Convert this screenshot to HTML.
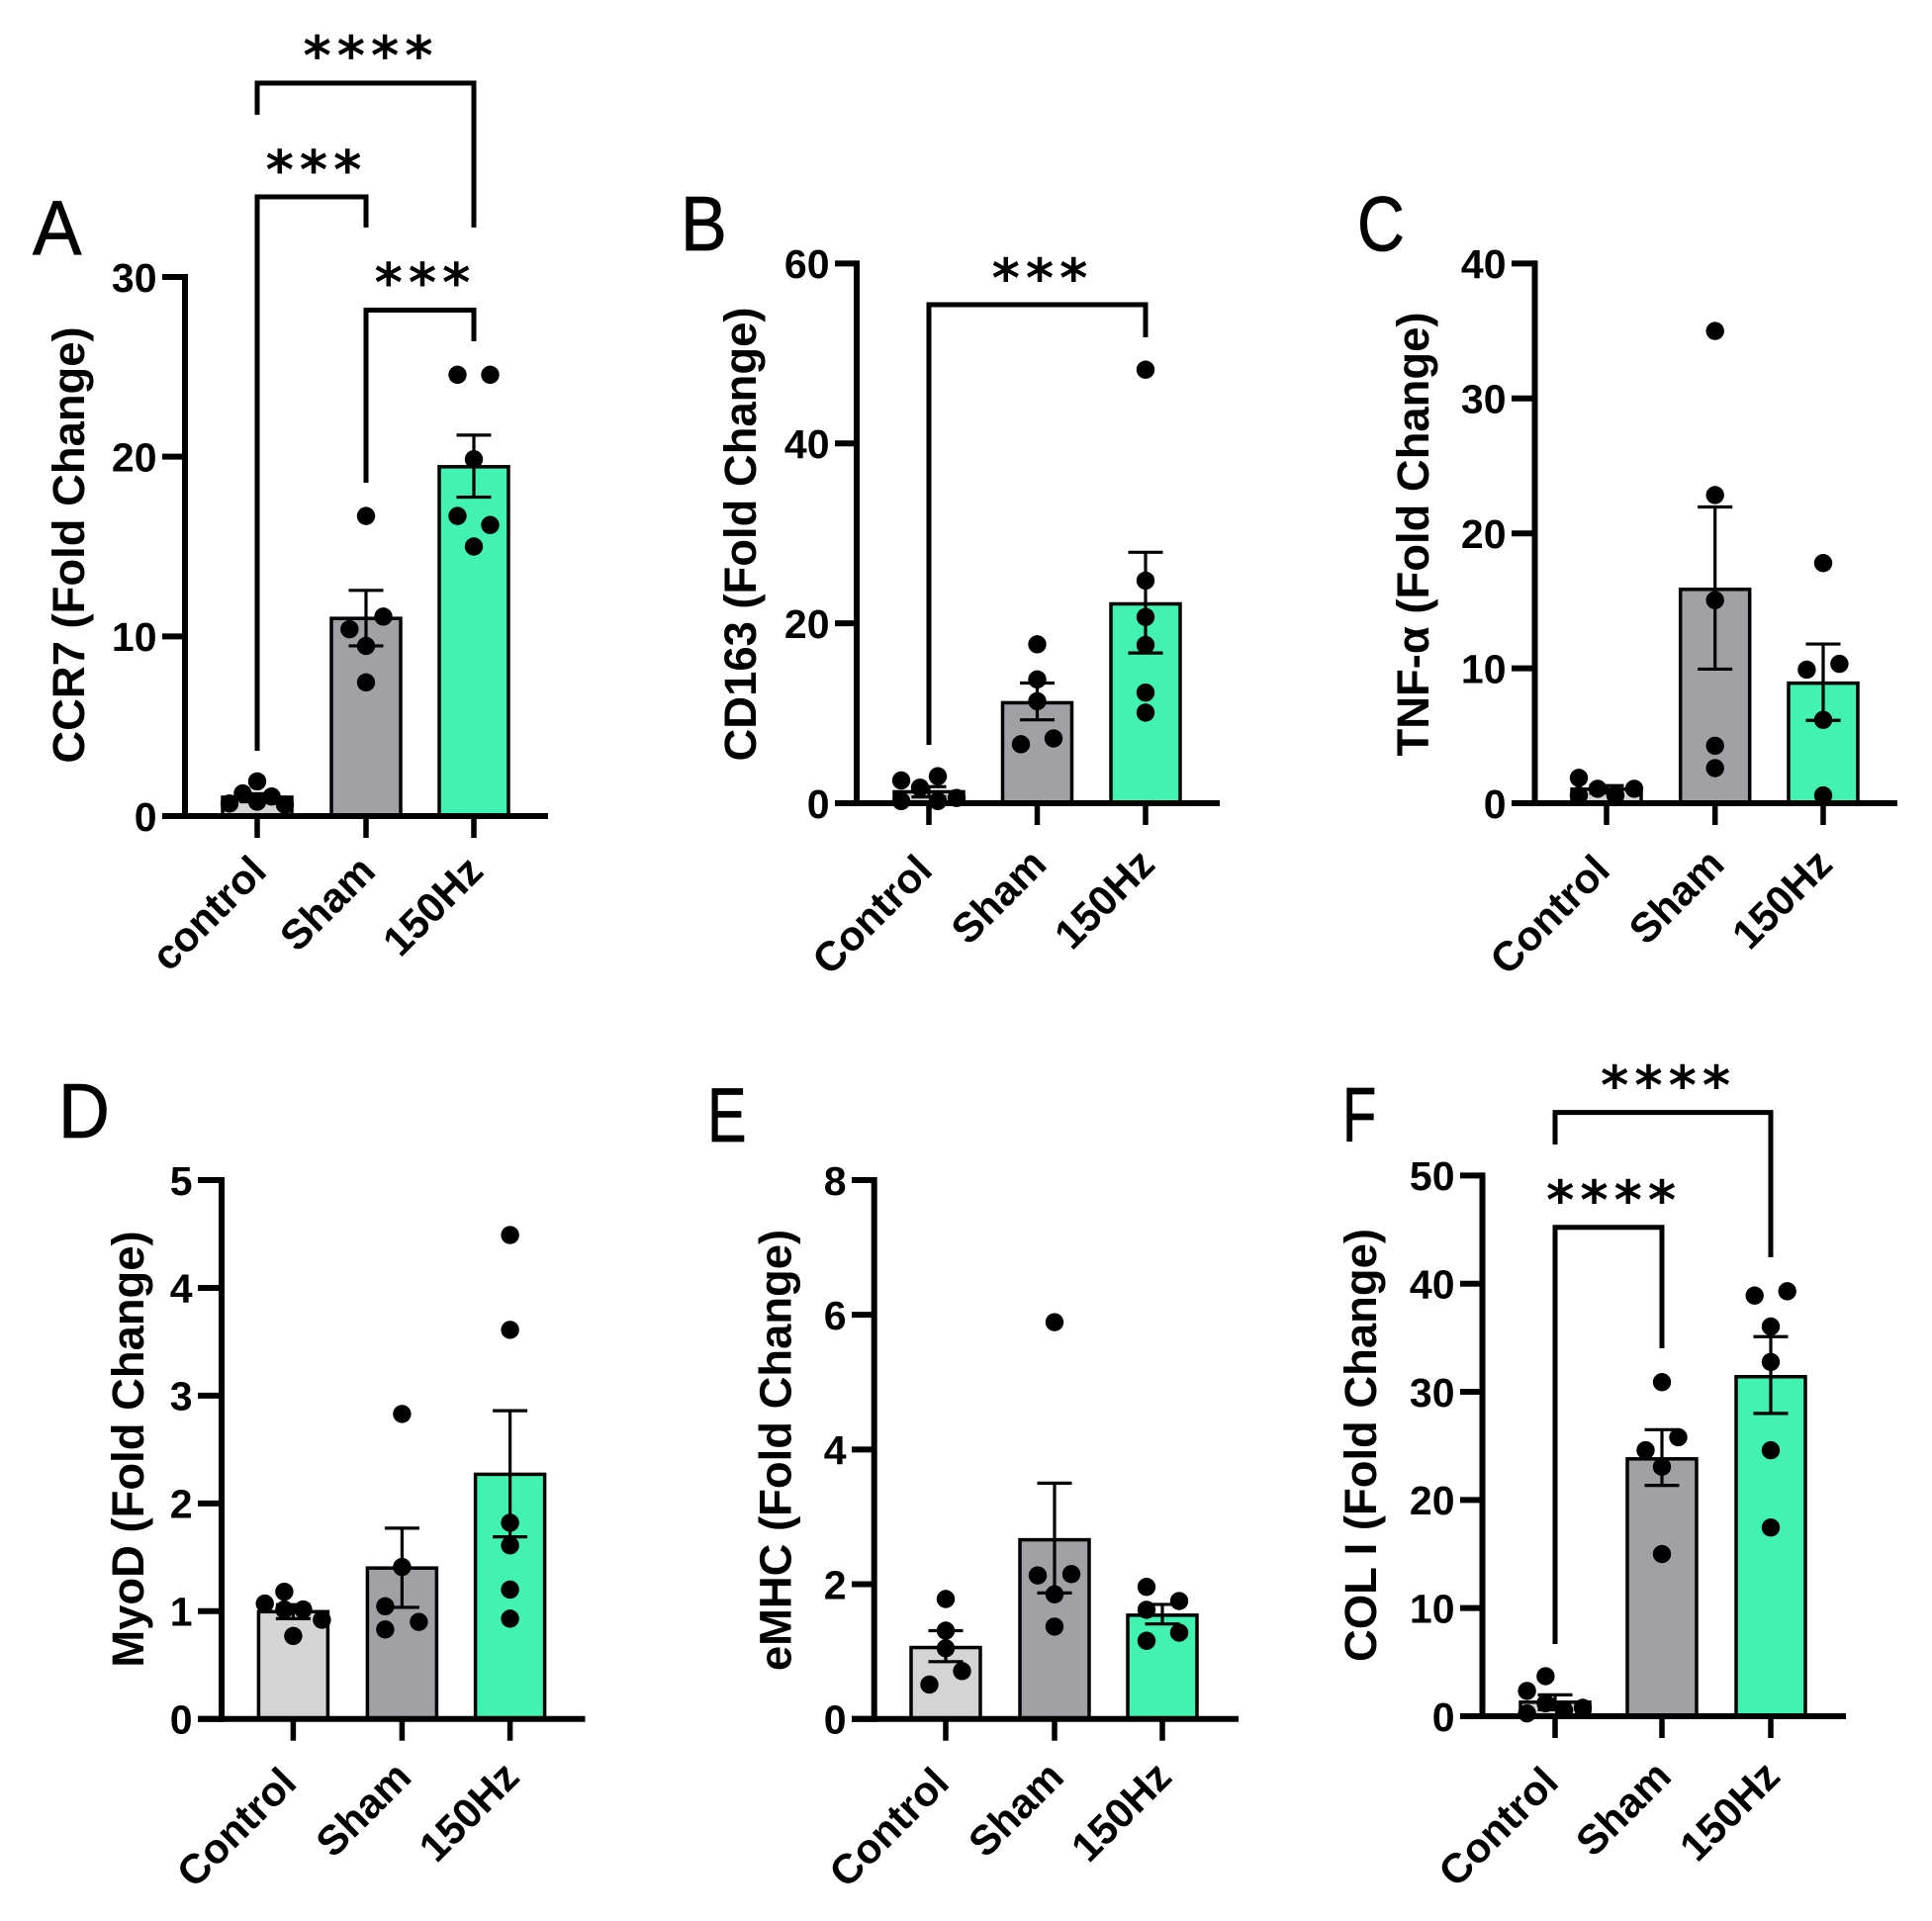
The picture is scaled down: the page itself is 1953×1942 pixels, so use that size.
<!DOCTYPE html>
<html lang="en">
<head>
<meta charset="utf-8">
<title>Fold change bar charts</title>
<style>
html,body{margin:0;padding:0;background:#fff;width:1953px;height:1942px;overflow:hidden}
svg{display:block}
text{font-family:"Liberation Sans",Arial,sans-serif;fill:#000}
.tick,.cat,.ytitle{font-weight:700}
.tick{font-size:41px}
.cat{font-size:42px}
.ytitle{font-size:45.4px}
.letter{font-size:78px;stroke:#000;stroke-width:0.8px}
.stars{font-family:"DejaVu Sans",sans-serif;font-size:54px;font-weight:700;letter-spacing:6px}
</style>
</head>
<body>
<svg id="figure" xmlns="http://www.w3.org/2000/svg" width="1953" height="1942" viewBox="0 0 1953 1942"></svg>
<script>
// ---------- chart data ----------
const categoriesA = ['control', 'Sham', '150Hz'];
const categoriesRest = ['Control', 'Sham', '150Hz'];

const ticksA = [0, 10, 20, 30];
const ticksB = [0, 20, 40, 60];
const ticksC = [0, 10, 20, 30, 40];
const ticksD = [0, 1, 2, 3, 4, 5];
const ticksE = [0, 2, 4, 6, 8];
const ticksF = [0, 10, 20, 30, 40, 50];

const meansA = [1.05, 11.0, 19.44];
const errLowA = [0.8, 9.47, 17.75];
const errHighA = [1.25, 12.56, 21.2];
const pointsA = [
  [0.7, 1.26, 1.93, 0.8, 1.09, 0.63],
  [16.7, 10.4, 11.1, 9.47, 7.44],
  [24.56, 24.56, 19.86, 16.7, 16.2, 15.0]
];

const meansB = [1.27, 11.17, 22.16];
const errLowB = [0.7, 9.27, 16.7];
const errHighB = [1.84, 13.36, 27.9];
const pointsB = [
  [2.53, 1.73, 3.0, 0.23, 0.23, 0.58],
  [17.67, 13.76, 11.34, 6.56, 7.2],
  [48.2, 24.75, 20.7, 17.6, 12.3, 10.07]
];

const meansC = [1.04, 15.85, 8.9];
const errLowC = [0.75, 9.94, 6.14];
const errHighC = [1.3, 21.96, 11.8];
const pointsC = [
  [1.88, 0.58, 1.07, 0.58, 1.07],
  [35.0, 22.84, 15.05, 4.26, 2.6],
  [17.8, 9.9, 10.33, 6.18, 0.58]
];

const meansD = [0.995, 1.4, 2.27];
const errLowD = [0.93, 1.035, 1.69];
const errHighD = [1.06, 1.77, 2.86];
const pointsD = [
  [1.07, 1.18, 1.015, 1.015, 0.77, 0.92],
  [2.83, 1.41, 1.045, 0.83, 0.9],
  [4.49, 3.61, 1.82, 1.61, 1.2, 0.93]
];

const meansE = [1.06, 2.66, 1.54];
const errLowE = [0.85, 1.87, 1.41];
const errHighE = [1.31, 3.5, 1.7];
const pointsE = [
  [1.78, 1.31, 1.05, 0.71, 0.51],
  [5.89, 2.13, 2.15, 1.85, 1.37],
  [1.96, 1.62, 1.75, 1.28, 1.16]
];

const meansF = [1.3, 23.8, 31.4];
const errLowF = [0.6, 21.35, 28.0];
const errHighF = [1.98, 26.5, 35.1];
const pointsF = [
  [3.7, 2.34, 1.2, 0.57, 0.78, 0.26],
  [30.9, 25.8, 24.6, 23.07, 15.0],
  [39.3, 38.9, 36.04, 32.76, 24.6, 17.45]
];

// ---------- layout ----------
const panels = [
  { id:'a', letter:'A', lx:33, ly:257, lsx:0.95, labelDy:6, labelCtl:0, title:'CCR7 (Fold Change)', tx:85, ty:551,
    ax:187, top:280, y0:825, left:164, end:554, cats:categoriesA, ticks:ticksA, means:meansA, lo:errLowA, hi:errHighA, pts:pointsA,
    cx:[260,370,479],
    dx:[[-28,-14.6,0,0,14.6,28],[0,-16.7,17.5,0,0],[-16.5,16.5,0,-16.5,16.5,0]],
    brackets:[
      {a:0,b:2,top:84,fa:116,fb:230,label:'****',sx:372,sy:46},
      {a:0,b:1,top:199,fa:759,fb:230,label:'***',sx:317,sy:161.5},
      {a:1,b:2,top:313.5,fa:488,fb:345,label:'***',sx:427,sy:275.5}
    ] },
  { id:'b', letter:'B', lx:688, ly:253, lsx:0.9, labelDy:12, labelCtl:6, title:'CD163 (Fold Change)', tx:764, ty:540,
    ax:866, top:266.4, y0:812, left:844, end:1233, cats:categoriesRest, ticks:ticksB, means:meansB, lo:errLowB, hi:errHighB, pts:pointsB,
    cx:[939,1048.5,1158],
    dx:[[-28,-9,9,-28,9,28],[0,0,0,-16.5,16.5],[0,0,0,0,0,0]],
    brackets:[ {a:0,b:2,top:308,fa:753,fb:341,label:'***',sx:1051,sy:271} ] },
  { id:'c', letter:'C', lx:1372, ly:253, lsx:0.85, labelDy:12, labelCtl:6, title:'TNF-\u03b1 (Fold Change)', tx:1444, ty:540,
    ax:1551.5, top:266.4, y0:812, left:1528, end:1918, cats:categoriesRest, ticks:ticksC, means:meansC, lo:errLowC, hi:errHighC, pts:pointsC,
    cx:[1624,1733.7,1843],
    dx:[[-28,-28,-9,9,28],[0,0,0,0,0],[0,-16.6,16.4,0,0]],
    brackets:[] },
  { id:'d', letter:'D', lx:59, ly:1150, lsx:0.92, labelDy:9, labelCtl:6, title:'MyoD (Fold Change)', tx:145, ty:1465,
    ax:224, top:1193, y0:1737.7, left:200, end:591.5, cats:categoriesRest, ticks:ticksD, means:meansD, lo:errLowD, hi:errHighD, pts:pointsD,
    cx:[296.4,406.4,515.6],
    dx:[[-28.7,-9,-9,10,0,29],[0,0,-17,-17,17],[0,0,0,0,0,0]],
    brackets:[] },
  { id:'e', letter:'E', lx:715, ly:1154, lsx:0.76, labelDy:9, labelCtl:6, title:'eMHC (Fold Change)', tx:799.4, ty:1466,
    ax:883.7, top:1193, y0:1737.7, left:861, end:1252, cats:categoriesRest, ticks:ticksE, means:meansE, lo:errLowE, hi:errHighE, pts:pointsE,
    cx:[956,1066,1175],
    dx:[[0,0,0,16.5,-16.5],[0,-17,17,0,0],[-16,-16,17,17,-16]],
    brackets:[] },
  { id:'f', letter:'F', lx:1357, ly:1154, lsx:0.72, labelDy:11, labelCtl:6, title:'COL I (Fold Change)', tx:1391, ty:1461,
    ax:1498.5, top:1188.4, y0:1735, left:1476, end:1866, cats:categoriesRest, ticks:ticksF, means:meansF, lo:errLowF, hi:errHighF, pts:pointsF,
    cx:[1572,1680,1790],
    dx:[[-9.6,-28.4,-9.6,9,28,-28.4],[0,16.5,-16.5,0,0],[16.7,-16.3,0,0,0,0]],
    brackets:[
      {a:0,b:2,top:1124.6,fa:1157,fb:1271,label:'****',sx:1683.6,sy:1087},
      {a:0,b:1,top:1240.8,fa:1662,fb:1363,label:'****',sx:1628.6,sy:1203}
    ] }
];

const barFills = ['#d4d4d4', '#a1a1a5', '#42f2b0'];
const groupKeys = ['control', 'sham', '150hz'];

// ---------- drawing ----------
const NS = 'http://www.w3.org/2000/svg';
const svg = document.getElementById('figure');

function make(tag, attrs, parent) {
  const el = document.createElementNS(NS, tag);
  for (const k in attrs) el.setAttribute(k, attrs[k]);
  parent.appendChild(el);
  return el;
}

function drawPanel(p) {
  const g = make('g', {}, svg);
  
  

  const maxV = p.ticks[p.ticks.length - 1];
  const yScale = v => p.y0 - (v / maxV) * (p.y0 - p.top);
  const xScale = i => p.cx[i];

  const letter = make('text', { class:'letter', transform:'translate(' + p.lx + ',' + p.ly + ') scale(' + p.lsx + ',1)' }, g);
  letter.textContent = p.letter;
  
  

  const title = make('text', { class:'ytitle', 'text-anchor':'middle', transform:'translate(' + p.tx + ',' + p.ty + ') rotate(-90)' }, g);
  title.textContent = p.title;
  
  

  // bars
  p.means.forEach((m, i) => {
    const yy = yScale(m);
    const bar = make('rect', { x:xScale(i) - 35, y:yy, width:70, height:p.y0 - yy, fill:barFills[i], stroke:'#000', 'stroke-width':3.5 }, g);
    
    
  });

  // error bars
  p.means.forEach((m, i) => {
    const eg = make('g', { stroke:'#000', 'stroke-width':3.2, fill:'none' }, g);
    
    
    const x = xScale(i), yh = yScale(p.hi[i]), yl = yScale(p.lo[i]);
    make('line', { x1:x, x2:x, y1:yh, y2:yl }, eg);
    make('line', { x1:x - 17.5, x2:x + 17.5, y1:yh, y2:yh }, eg);
    make('line', { x1:x - 17.5, x2:x + 17.5, y1:yl, y2:yl }, eg);
  });

  // dots
  p.pts.forEach((series, i) => {
    series.forEach((v, j) => {
      const dot = make('circle', { cx:xScale(i) + (p.dx[i][j] || 0), cy:yScale(v), r:9.2, fill:'#000' }, g);
      
      
    });
  });

  // axes
  const yAxis = make('line', { x1:p.ax, x2:p.ax, y1:p.top - 3, y2:p.y0 + 3, stroke:'#000', 'stroke-width':6 }, g);
  
  
  const xAxis = make('line', { x1:p.left, x2:p.end, y1:p.y0, y2:p.y0, stroke:'#000', 'stroke-width':6 }, g);
  
  

  p.ticks.forEach(t => {
    const yy = yScale(t);
    const tk = make('line', { x1:p.left, x2:p.ax, y1:yy, y2:yy, stroke:'#000', 'stroke-width':6 }, g);
    
    
    const lb = make('text', { x:p.left - 5.5, y:yy + 14.8, class:'tick', 'text-anchor':'end' }, g);
    lb.textContent = t;
    
    
  });

  p.cats.forEach((c, i) => {
    const x = xScale(i);
    const tk = make('line', { x1:x, x2:x, y1:p.y0, y2:p.y0 + 22, stroke:'#000', 'stroke-width':5.5 }, g);
    
    
    const extra = i === 0 ? p.labelCtl : 0;
    const lb = make('text', { class:'cat', 'text-anchor':'end', transform:'translate(' + (x + 11.5 - extra) + ',' + (p.y0 + 52 + p.labelDy + extra) + ') rotate(-45)' }, g);
    lb.textContent = c;
    
    
  });

  // significance brackets
  p.brackets.forEach(b => {
    const xa = xScale(b.a), xb = xScale(b.b);
    const path = make('path', { d:'M' + xa + ' ' + b.fa + 'V' + b.top + 'H' + xb + 'V' + b.fb, fill:'none', stroke:'#000', 'stroke-width':5 }, g);
    
    
    const st = make('text', { x:b.sx + 3, y:b.sy + 29, class:'stars', 'text-anchor':'middle' }, g);
    st.textContent = b.label;
    
    
  });
}

panels.forEach(drawPanel);
</script>
</body>
</html>
